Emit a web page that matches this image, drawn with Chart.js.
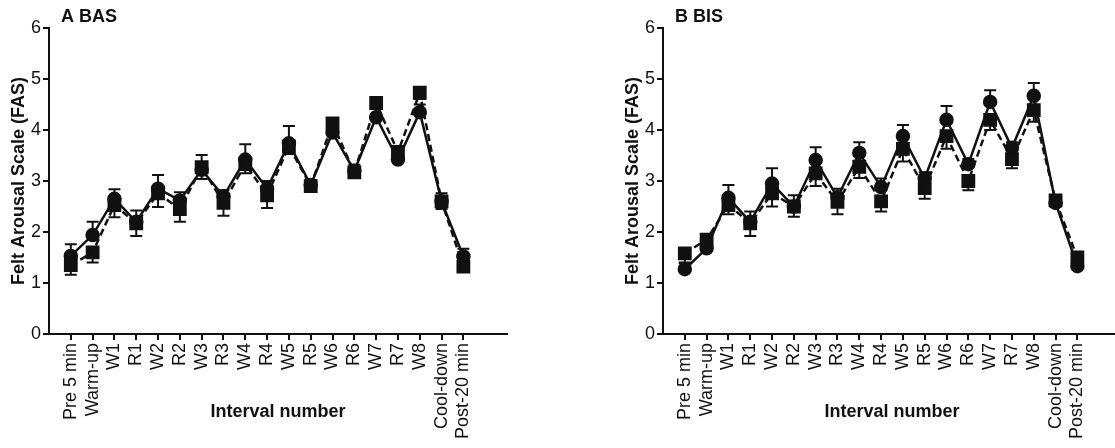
<!DOCTYPE html>
<html>
<head>
<meta charset="utf-8">
<script src="https://cdn.jsdelivr.net/npm/chart.js@4.4.0/dist/chart.umd.min.js"></script>
<style>
  html, body { margin: 0; padding: 0; background: #fff; overflow: hidden; }
  .panel { position: absolute; top: 0; width: 557px; height: 448px; }
</style>
</head>
<body>
<div class="panel" style="left:0"><canvas id="graph1" width="557" height="448"></canvas></div>
<div class="panel" style="left:614px"><canvas id="graph2" width="557" height="448"></canvas></div>
<script>
var labels = ['Pre 5 min', 'Warm-up', 'W1', 'R1', 'W2', 'R2', 'W3', 'R3', 'W4', 'R4',
    'W5', 'R5', 'W6', 'R6', 'W7', 'R7', 'W8', 'Cool-down', 'Post-20 min'];

// A BAS
var basCircle = [1.53, 1.94, 2.65, 2.2, 2.85, 2.62, 3.22, 2.7, 3.42, 2.85, 3.74, 2.92, 3.95, 3.2, 4.25, 3.42, 4.35, 2.6, 1.52];
var basCircleErr = [0.23, 0.26, 0.19, 0.22, 0.27, 0.16, 0.29, 0.12, 0.3, 0.15, 0.34, 0.1, 0.2, 0.12, 0.2, 0.12, 0.15, 0.16, 0.15];
var basSquare = [1.35, 1.6, 2.53, 2.17, 2.76, 2.45, 3.27, 2.57, 3.33, 2.72, 3.68, 2.9, 4.13, 3.17, 4.53, 3.57, 4.73, 2.6, 1.32];
var basSquareErr = [0.19, 0.2, 0.24, 0.25, 0.27, 0.25, 0.23, 0.25, 0.18, 0.25, 0.15, 0.1, 0.1, 0.1, 0.1, 0.15, 0.12, 0.15, 0.1];

// B BIS
var bisCircle = [1.27, 1.68, 2.67, 2.2, 2.95, 2.5, 3.41, 2.68, 3.55, 2.88, 3.88, 3.05, 4.2, 3.33, 4.55, 3.65, 4.67, 2.57, 1.33];
var bisCircleErr = [0.12, 0.12, 0.25, 0.2, 0.3, 0.22, 0.25, 0.17, 0.21, 0.17, 0.22, 0.12, 0.27, 0.1, 0.23, 0.11, 0.25, 0.12, 0.1];
var bisSquare = [1.58, 1.85, 2.53, 2.17, 2.76, 2.5, 3.15, 2.59, 3.28, 2.6, 3.63, 2.86, 3.88, 3.0, 4.2, 3.43, 4.39, 2.62, 1.5];
var bisSquareErr = [0.18, 0.12, 0.18, 0.25, 0.26, 0.2, 0.25, 0.24, 0.22, 0.2, 0.25, 0.21, 0.25, 0.18, 0.2, 0.18, 0.23, 0.12, 0.1];

var yTicks = [0, 1, 2, 3, 4, 5, 6];

var FONT = "'Liberation Sans', Arial, sans-serif";
var INK = '#111';

// one-sided error bars (circles up, squares down), drawn under the markers
var errorBars = {
    id: 'errorBars',
    beforeDatasetsDraw: function (chart) {
        var ctx = chart.ctx;
        var xs = chart.scales.x, ys = chart.scales.y;
        ctx.save();
        ctx.strokeStyle = INK;
        ctx.lineWidth = 2;
        chart.data.datasets.forEach(function (ds) {
            ds.data.forEach(function (p, i) {
                var x = xs.getPixelForValue(p.x);
                var y0 = ys.getPixelForValue(p.y);
                var y1 = ys.getPixelForValue(p.y + ds.errDir * ds.err[i]);
                ctx.beginPath();
                ctx.moveTo(x, y0);
                ctx.lineTo(x, y1);
                ctx.moveTo(x - 6, y1);
                ctx.lineTo(x + 6, y1);
                ctx.stroke();
            });
        });
        ctx.restore();
    }
};

var panelLabel = {
    id: 'panelLabel',
    afterDraw: function (chart, args, opts) {
        var ctx = chart.ctx;
        ctx.save();
        ctx.font = 'bold 18px ' + FONT;
        ctx.fillStyle = INK;
        ctx.textBaseline = 'middle';
        ctx.fillText(opts.text, chart.chartArea.left + 12, 17);
        ctx.restore();
    }
};

function makeChart(id, title, circ, circErr, sq, sqErr) {
    var ctx = document.getElementById(id).getContext('2d');
    return new Chart(ctx, {
        type: 'line',
        data: {
            datasets: [{
                data: sq.map(function (v, i) { return { x: i, y: v }; }),
                err: sqErr,
                errDir: -1,
                borderColor: INK,
                backgroundColor: INK,
                borderWidth: 2.5,
                borderDash: [7, 4],
                pointStyle: 'rect',
                pointRadius: 8,
                tension: 0
            }, {
                data: circ.map(function (v, i) { return { x: i, y: v }; }),
                err: circErr,
                errDir: 1,
                borderColor: INK,
                backgroundColor: INK,
                borderWidth: 2.5,
                pointStyle: 'circle',
                pointRadius: 6,
                tension: 0
            }]
        },
        options: {
            responsive: false,
            animation: false,
            layout: { padding: { top: 28, right: 50, left: 0, bottom: 0 } },
            plugins: {
                legend: { display: false },
                tooltip: { enabled: false },
                panelLabel: { text: title }
            },
            scales: {
                x: {
                    type: 'linear',
                    min: -1,
                    max: 20,
                    afterBuildTicks: function (s) {
                        s.ticks = labels.map(function (l, i) { return { value: i }; });
                    },
                    afterFit: function (s) { s.height = 114; },
                    ticks: {
                        autoSkip: false,
                        maxRotation: 90,
                        minRotation: 90,
                        padding: 3,
                        color: INK,
                        font: { family: FONT, size: 18 },
                        callback: function (v) { return labels[v]; }
                    },
                    grid: { drawOnChartArea: false, drawTicks: true, tickLength: 6, color: INK, lineWidth: 2 },
                    border: { display: true, color: INK, width: 2 },
                    title: {
                        display: true,
                        text: 'Interval number',
                        color: INK,
                        font: { family: FONT, size: 18, weight: 'bold' },
                        padding: { top: 0, bottom: 25 }
                    }
                },
                y: {
                    min: 0,
                    max: 6,
                    afterBuildTicks: function (s) {
                        s.ticks = yTicks.map(function (v) { return { value: v }; });
                    },
                    afterFit: function (s) { s.width = 49; },
                    ticks: {
                        padding: 2,
                        color: INK,
                        font: { family: FONT, size: 18 }
                    },
                    grid: { drawOnChartArea: false, drawTicks: true, tickLength: 6, color: INK, lineWidth: 2 },
                    border: { display: true, color: INK, width: 2 },
                    title: {
                        display: true,
                        text: 'Felt Arousal Scale (FAS)',
                        color: INK,
                        font: { family: FONT, size: 18, weight: 'bold' },
                        padding: { top: 8, bottom: 0 }
                    }
                }
            }
        },
        plugins: [errorBars, panelLabel]
    });
}

var chart1 = makeChart('graph1', 'A BAS', basCircle, basCircleErr, basSquare, basSquareErr);
var chart2 = makeChart('graph2', 'B BIS', bisCircle, bisCircleErr, bisSquare, bisSquareErr);
</script>
</body>
</html>
